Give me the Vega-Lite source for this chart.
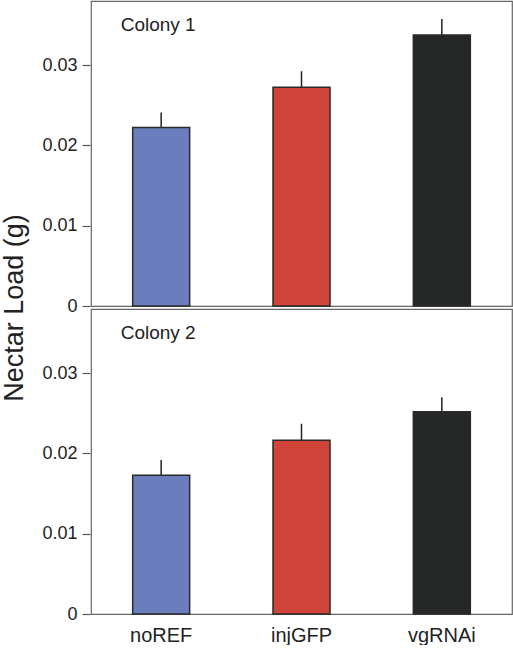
{
  "$schema": "https://vega.github.io/schema/vega-lite/v6.json",
  "padding": {"left": 0, "top": 0, "right": 1, "bottom": 0},
  "background": "white",
  "data": {"values": [
    {"colony": "Colony 1", "group": "noREF", "mean": 0.02225, "upper": 0.0241},
    {"colony": "Colony 1", "group": "injGFP", "mean": 0.02725, "upper": 0.02925},
    {"colony": "Colony 1", "group": "vgRNAi", "mean": 0.03375, "upper": 0.03575},
    {"colony": "Colony 2", "group": "noREF", "mean": 0.0173, "upper": 0.0192},
    {"colony": "Colony 2", "group": "injGFP", "mean": 0.02165, "upper": 0.0237},
    {"colony": "Colony 2", "group": "vgRNAi", "mean": 0.0252, "upper": 0.027}
  ]},
  "facet": {"row": {"field": "colony", "type": "nominal",
    "header": {"title": "Nectar Load (g)", "labels": false, "titleFontSize": 27, "titleFontWeight": "normal", "titleColor": "#222", "titlePadding": 2}}},
  "spacing": {"row": 0},
  "spec": {
    "width": 421,
    "height": 305,
    "layer": [
      {
        "mark": {"type": "rule", "strokeWidth": 1.5, "color": "#222"},
        "encoding": {
          "x": {"field": "group", "type": "nominal", "sort": ["noREF", "injGFP", "vgRNAi"]},
          "y": {"field": "mean", "type": "quantitative"},
          "y2": {"field": "upper"}
        }
      },
      {
        "mark": {"type": "bar", "size": 57, "stroke": "#2a2a2a", "strokeWidth": 1.5},
        "encoding": {
          "x": {"field": "group", "type": "nominal", "sort": ["noREF", "injGFP", "vgRNAi"],
                "scale": {"paddingInner": 0, "paddingOuter": 0},
                "axis": {"title": null, "ticks": false, "domain": false, "labelAngle": 0, "labelAlign": "center", "labelBaseline": "top", "labelFontSize": 20, "labelPadding": 9, "labelColor": "#222"}},
          "y": {"field": "mean", "type": "quantitative",
                "scale": {"domain": [0, 0.038], "nice": false},
                "axis": {"title": null, "values": [0, 0.01, 0.02, 0.03], "format": "~g", "grid": false, "domain": false,
                         "tickSize": 8, "tickColor": "#555", "tickWidth": 1.2, "labelFontSize": 18, "labelColor": "#222", "labelPadding": 5}},
          "color": {"field": "group", "type": "nominal",
                    "scale": {"domain": ["noREF", "injGFP", "vgRNAi"], "range": ["#6a7dbd", "#d0443a", "#262727"]},
                    "legend": null}
        }
      },
      {
        "transform": [{"filter": "datum.group == 'noREF'"}],
        "mark": {"type": "text", "fontSize": 19, "color": "#222", "align": "center", "baseline": "alphabetic", "dx": -3},
        "encoding": {
          "x": {"field": "group", "type": "nominal", "sort": ["noREF", "injGFP", "vgRNAi"]},
          "y": {"datum": 0.0343},
          "text": {"field": "colony"}
        }
      }
    ]
  },
  "config": {
    "font": "Liberation Sans",
    "view": {"stroke": "#666", "strokeWidth": 1.2}
  }
}
